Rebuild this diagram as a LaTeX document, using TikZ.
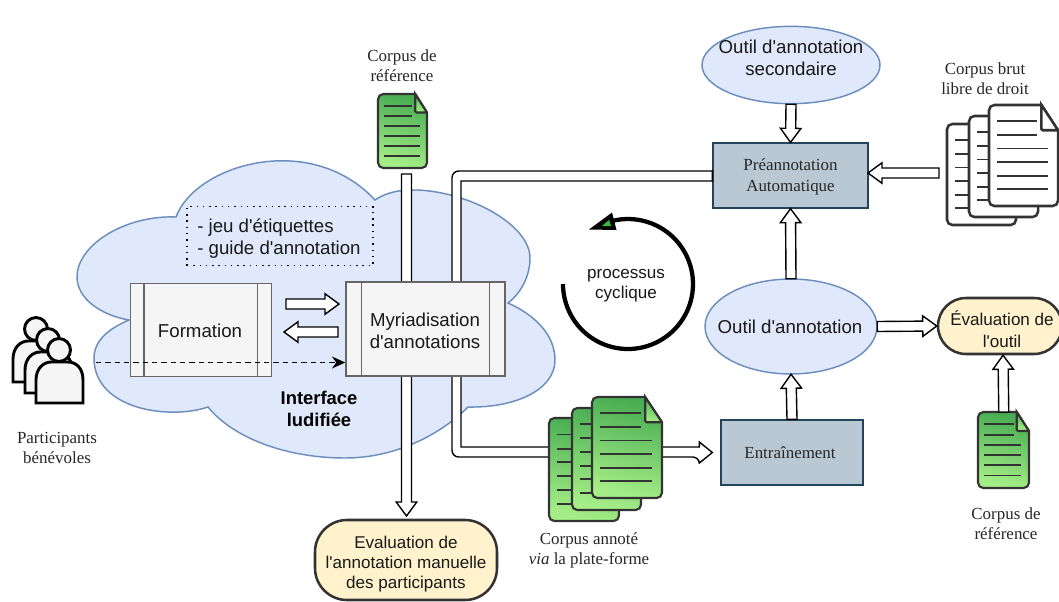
\documentclass[tikz,border=0pt]{standalone}
\usepackage{fontspec}
\setmainfont{Liberation Sans}
\newfontfamily\hlv{Liberation Sans}
\newfontfamily\srf{Liberation Serif}
\usetikzlibrary{calc,arrows.meta}
\definecolor{cloudF}{HTML}{DFE9FB}
\definecolor{cloudS}{HTML}{6C8EBF}
\definecolor{procF}{HTML}{F5F5F5}
\definecolor{procS}{HTML}{666666}
\definecolor{slateF}{HTML}{BAC8D3}
\definecolor{slateS}{HTML}{23445D}
\definecolor{evalF}{HTML}{FFF2CC}
\definecolor{iconS}{HTML}{333333}
\definecolor{docTop}{RGB}{72,172,82}
\definecolor{docBot}{RGB}{165,238,135}
\definecolor{cycG}{RGB}{50,190,60}
\tikzset{
  x=0.75pt,y=-0.75pt,
  sanslabel/.style={font=\hlv\fontsize{14}{16.5}\selectfont,align=center,inner sep=0pt,text=black!90},
  sanssmall/.style={font=\hlv\fontsize{12.8}{15}\selectfont,align=center,inner sep=0pt,text=black!90},
  seriflabel/.style={font=\srf\fontsize{12.7}{15}\selectfont,align=center,inner sep=0pt,text=black!85},
  cloudshape/.style={fill=cloudF,draw=cloudS,line width=1.1pt},
  ellipsenode/.style={fill=cloudF,draw=cloudS,line width=1.1pt},
  procbox/.style={rectangle,fill=procF,draw=procS,line width=1.1pt,inner sep=0pt},
  slatebox/.style={rectangle,fill=slateF,draw=slateS,line width=1pt,inner sep=0pt},
  evalbox/.style={rectangle,fill=evalF,draw=iconS,line width=1.9pt,inner sep=0pt},
  blockarrow/.style={fill=white,draw=black,line width=1.05pt,line join=miter},
  docgreen/.style={top color=docTop,bottom color=docBot,shading angle=-15,draw=iconS,line width=1.6pt},
  docwhite/.style={fill=white,draw=iconS,line width=1.9pt},
  docrule/.style={draw=iconS,line width=1.4pt},
  hiddenbox/.style={rectangle,inner sep=0pt,minimum width=0pt,minimum height=0pt},
  person/.style={fill=procF,draw=black,line width=2.2pt,line join=miter},
}
% #1 tail, #2 tip
\newcommand\blockarrowto[2]{%
  \coordinate (ba-s) at (#1);
  \coordinate (ba-e) at (#2);
  \coordinate (ba-h) at ($(ba-e)!10.5pt!(ba-s)$);
  \draw[blockarrow] ($(ba-s)!3.75pt!90:(ba-e)$) -- ($(ba-h)!3.75pt!90:(ba-e)$) -- ($(ba-h)!7.7pt!90:(ba-e)$) -- (ba-e)
    -- ($(ba-h)!7.7pt!-90:(ba-e)$) -- ($(ba-h)!3.75pt!-90:(ba-e)$) -- ($(ba-s)!3.75pt!-90:(ba-e)$) -- cycle;}
% #1 x, #2 y, #3 w, #4 h, #5 style, #6 node name
\newcommand\docicon[6]{%
  \node[hiddenbox,minimum width=#3*0.75pt,minimum height=#4*0.75pt,anchor=north west] (#6) at (#1,#2) {};
  \begin{scope}[shift={(#1,#2)},xscale=#3,yscale=#4]
    \draw[#5] (0,.5) [rounded corners=4pt] -- (0,0) -- (.4,0) [sharp corners] -- (.76,0) -- (1,.25) -- (1,.5) [rounded corners=4pt] -- (1,1) -- (0,1) -- cycle;
    \draw[#5,sharp corners] (.76,0) -- (.76,.23) [rounded corners=1pt] -- (.76,.25) -- (1,.25) [sharp corners] -- cycle;
    \foreach \yy/\xx in {.16/.70,.297/.70,.43/.85,.565/.85,.70/.85,.835/.85}
      \draw[docrule] (.12,\yy) -- (\xx,\yy);
  \end{scope}}
\newcommand\persona[3]{%
  \begin{scope}[shift={(#1,#2)}]
    \draw[person] (0,0) -- (0,-23) .. controls (0,-35) and (8,-41) .. (15,-41) -- (32,-41) .. controls (40,-41) and (47,-35) .. (47,-23) -- (47,0) -- cycle;
    \draw[person] (23,-53) circle[radius=8.6pt];
    \node[hiddenbox] (#3) at (23,-20) {};
  \end{scope}}
\begin{document}
\begin{tikzpicture}
\useasboundingbox (0,0) rectangle (1059,601);
\fill[white] (0,0) rectangle (1059,601);
% cloud
\draw[cloudshape] (176,217) .. controls (195,165) and (310,130) .. (375,200)
  .. controls (390,190) and (405,190) .. (417,190)
  .. controls (470,192) and (530,225) .. (530,258)
  .. controls (530,275) and (522,292) .. (508,303)
  .. controls (535,315) and (555,335) .. (555,360)
  .. controls (555,390) and (515,408) .. (468,407)
  .. controls (440,435) and (395,458) .. (345,458)
  .. controls (290,458) and (235,440) .. (208,407)
  .. controls (170,420) and (94,410) .. (94,358)
  .. controls (94,340) and (110,328) .. (129,320)
  .. controls (100,315) and (77,298) .. (77,277)
  .. controls (77,245) and (125,215) .. (176,217) -- cycle;
% dotted guide
\node[rectangle,draw=black,line width=1.1pt,dash pattern=on 1.1pt off 3.6pt,minimum width=186*0.75pt,minimum height=59*0.75pt,inner sep=0pt] (guide) at (280,236) {};
\node[sanslabel,align=left,anchor=west] (guidetext) at (197,239) {- jeu d'étiquettes\\- guide d'annotation};
% named boxes on the right
\node[slatebox,minimum width=155*0.75pt,minimum height=65*0.75pt] (preann) at (790.5,175.5) {};
\node[seriflabel,font=\srf\fontsize{12.7}{15.6}\selectfont] (preanntext) at (790.5,177) {Préannotation\\Automatique};
\node[slatebox,minimum width=142*0.75pt,minimum height=65*0.75pt] (entr) at (792,452.5) {};
\node[seriflabel] (entrtext) at (790,453) {Entraînement};
% long connectors behind the boxes
\coordinate (refstart) at (406.5,174);
\node[evalbox,rounded corners=24pt,minimum width=182*0.75pt,minimum height=80*0.75pt] (evalman) at (406,560) {};
\node[sanssmall] (evalmantext) at (406,564) {Evaluation de\\l'annotation manuelle\\des participants};
\coordinate (reftip) at (406.5,516);
\blockarrowto{refstart}{reftip}
\coordinate (topO) at (452,171);
\coordinate (botO) at (452,457);
\coordinate (topI) at (461,181);
\coordinate (botI) at (461,447);
\coordinate (tip) at ($(entr.west)+(-8,0)$);
\coordinate (hd) at ($(tip)+(-13,0)$);
\draw[blockarrow] (preann.west |- topO) [rounded corners=5pt] -- (topO) -- (botO) -- (hd |- botO) [sharp corners]
  -- ($(hd)+(0,10.5)$) -- (tip) -- ($(hd)+(0,-10.5)$) -- (hd |- botI) -- (botI) -- (topI) -- (preann.west |- topI) -- cycle;
% process boxes
\node[procbox,minimum width=141*0.75pt,minimum height=93*0.75pt] (form) at (201,330) {};
\draw[procS,line width=1.1pt] ($(form.north west)+(14,0)$) -- ($(form.south west)+(14,0)$);
\draw[procS,line width=1.1pt] ($(form.north east)+(-15,0)$) -- ($(form.south east)+(-15,0)$);
\node[sanslabel] (formtext) at (200,331) {Formation};
\node[procbox,minimum width=159*0.75pt,minimum height=94*0.75pt] (myr) at (425.5,329) {};
\draw[procS,line width=1.1pt] ($(myr.north west)+(16,0)$) -- ($(myr.south west)+(16,0)$);
\draw[procS,line width=1.1pt] ($(myr.north east)+(-16,0)$) -- ($(myr.south east)+(-16,0)$);
\node[sanslabel] (myrtext) at (425,331) {Myriadisation\\d'annotations};
\node[sanslabel,font=\hlv\bfseries\fontsize{13.8}{16.5}\selectfont,text=black] (iface) at (319,409) {Interface\\ludifiée};
% arrows between process boxes
\coordinate (fm1) at (286,304);
\coordinate (fm2) at (339,304);
\coordinate (mf1) at (338,332);
\coordinate (mf2) at (284,332);
\blockarrowto{fm1}{fm2}
\blockarrowto{mf1}{mf2}
% participants
\persona{13}{382}{p1}
\persona{25}{393}{p2}
\persona{36}{403}{p3}
\node[seriflabel] (parttext) at (57,448) {Participants\\bénévoles};
\coordinate (dashstart) at (96,362.5);
\draw[black,line width=1.1pt,dash pattern=on 4pt off 3pt,-{Stealth[length=10pt,width=9pt]}] (dashstart) -- (dashstart -| myr.west);
% reference doc top
\docicon{378}{94}{49}{74}{docgreen}{docA}
\node[seriflabel] (docAtext) at (402,66) {Corpus de\\référence};
% annotated stack
\docicon{549}{418}{70}{103}{docgreen}{st1}
\docicon{572}{408}{69}{102}{docgreen}{st2}
\docicon{592}{397}{70}{101}{docgreen}{st3}
\node[seriflabel] (stacktext) at (589,550) {Corpus annoté\\\textit{via} la plate-forme};
% raw corpus stack
\docicon{947}{124}{69}{101}{docwhite}{rw1}
\docicon{969}{116}{69}{101}{docwhite}{rw2}
\docicon{989}{105}{69}{101}{docwhite}{rw3}
\node[seriflabel] (rawtext) at (985,79) {Corpus brut\\libre de droit};
% ellipses
\draw[ellipsenode] (791,65) ellipse[x radius=66.75pt,y radius=29pt];
\node[sanslabel] (outsec) at (791,58) {Outil d'annotation\\secondaire};
\node[hiddenbox,minimum width=178*0.75pt,minimum height=78*0.75pt] (secshape) at (791,65) {};
\draw[ellipsenode] (791,326.5) ellipse[x radius=64.5pt,y radius=35.6pt];
\node[sanslabel] (outil) at (790,327) {Outil d'annotation};
\node[hiddenbox,minimum width=172*0.75pt,minimum height=95*0.75pt] (outshape) at (791,326.5) {};
% evaluation of the tool
\node[evalbox,rounded corners=21pt,minimum width=124*0.75pt,minimum height=56*0.75pt] (evalout) at (1000,326) {};
\node[sanssmall,font=\hlv\fontsize{12.8}{16.5}\selectfont] (evalouttext) at (1002,329) {Évaluation de\\l'outil};
% reference doc right
\docicon{978}{412}{51}{76}{docgreen}{docB}
\node[seriflabel] (docBtext) at (1006,523.5) {Corpus de\\référence};
% block arrows
\blockarrowto{secshape.south}{preann.north}
\blockarrowto{outshape.north}{preann.south}
\blockarrowto{entr.north}{outshape.south}
\blockarrowto{outshape.east}{evalout.west}
\coordinate (evaltip) at ($(evalout.south)+(3,0)$);
\blockarrowto{docB.north}{evaltip}
\coordinate (rawtail) at (939,173);
\coordinate (rawtip) at (868,173);
\blockarrowto{rawtail}{rawtip}
% cycle
\draw[black,line width=3.2pt] plot[domain=180:-103,samples=80] ({628+65*cos(\x)},{284+65*sin(\x)});
\fill[black] (589,229.5) -- (612,212.5) -- (616.5,230) -- cycle;
\fill[cycG] (602,226) -- (609,220) -- (611,226) -- cycle;
\node[sanssmall] (cyctext) at (626,286) {processus\\cyclique};
\end{tikzpicture}
\end{document}
